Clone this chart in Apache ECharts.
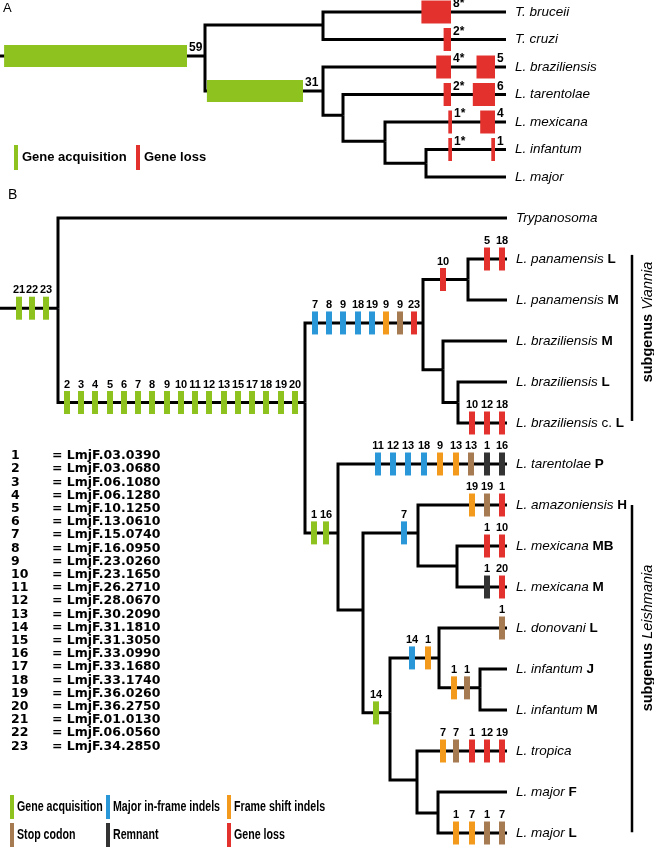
<!DOCTYPE html>
<html><head><meta charset="utf-8">
<script src="https://cdn.jsdelivr.net/npm/echarts@6/dist/echarts.min.js"></script>
<style>html,body{margin:0;padding:0;background:#fff}#c{width:654px;height:848px}</style>
</head><body><div id="c"></div>
<script>
const FONT = '"Liberation Sans", Arial, Helvetica, sans-serif';
const LISTFONT = '"DejaVu Sans", "Liberation Sans", Arial, sans-serif';
const COLORS = {g:'#8DC21F', b:'#2A98D8', o:'#F39A1C', s:'#A67B52', k:'#333333', r:'#E3322D'};

// ================= Panel A data =================
const aTipX = 506;
const aLeafNames  = ['T. bruceii','T. cruzi','L. braziliensis','L. tarentolae','L. mexicana','L. infantum','L. major'];
const aLeafParent = ['AT','AT','AL','ALA','ALB','ALC','ALC'];
const aNodeNames  = ['A0','AT','AL','ALA','ALB','ALC'];
const aNodeParent = [null,'A0','A0','AL','ALA','ALB'];
const aNodeX      = [205,323,323,343,385,426];
const aNodeRow    = [1.6,0.47,2.87,3.75,4.7,5.5];
// gene gain / loss events (box right end, count, label)
const aEvBranch = ['A0','AL','T. bruceii','T. cruzi','L. braziliensis','L. braziliensis','L. tarentolae','L. tarentolae','L. mexicana','L. mexicana','L. infantum','L. infantum'];
const aEvEnd    = [187,303,451,451,451,495,451,495,452,495,452,495];
const aEvCount  = [59,31,8,2,4,5,2,6,1,4,1,1];
const aEvLabel  = ['59','31','8*','2*','4*','5','2*','6','1*','4','1*','1'];
const aEvType   = ['g','g','r','r','r','r','r','r','r','r','r','r'];

// ================= Panel B data =================
const bTipX = 507;
const bLeafKeys    = ['Tryp','panL','panM','brazM','brazL','brazCL','tarP','amaH','mexMB','mexM','donL','infJ','infM','tro','majF','majL'];
const bLeafSpecies = ['Trypanosoma','L. panamensis','L. panamensis','L. braziliensis','L. braziliensis','L. braziliensis','L. tarentolae','L. amazoniensis','L. mexicana','L. mexicana','L. donovani','L. infantum','L. infantum','L. tropica','L. major','L. major'];
const bLeafNote    = ['','','','','','c.','','','','','','','','','',''];
const bLeafStrain  = ['','L','M','M','L','L','P','H','MB','M','L','J','M','','F','L'];
const bLeafParent  = ['R','Pan','Pan','Braz','BrazS','BrazS','N2','N4','Mex','Mex','N6','Inf','Inf','N7','Maj','Maj'];
const bNodeNames  = ['R','N1','V','Pan','Braz','BrazS','N2','N3','N4','Mex','N5','N6','Inf','N7','Maj'];
const bNodeParent = [null,'R','N1','V','V','Braz','N1','N2','N3','N4','N3','N5','N6','N5','N7'];
const bNodeX      = [58,305,423,468,443,458,338,363,418,457,390,439,480,417,438];
const bNodeRow    = [2.2,4.5,2.56,1.5,3.7,4.5,7.68,9.56,7.68,8.49,12.07,10.73,11.46,13.71,14.51];

// markers per branch: x positions, types, gene numbers
const mkBranch = ['R','N1','V','Pan','panL','brazCL','N2','tarP','N4','amaH','mexMB','mexM','donL','N5','N6','Inf','tro','majL'];
const mkX = [
  [19,32,46],
  [67,81,95,110,124,138,152,167,181,195,209,224,238,252,266,281,295],
  [315,329,343,358,372,386,400,414],
  [443],
  [487,502],
  [472,487,502],
  [314,326],
  [378,393,408,424,440,456,471,487,502],
  [404],
  [472,487,502],
  [487,502],
  [487,502],
  [502],
  [376],
  [412,428],
  [454,467],
  [443,456,472,487,502],
  [456,472,487,502]
];
const mkType = ['ggg','ggggggggggggggggg','bbbbbosr','r','rr','rrr','gg','bbbboosk'+'k','b','osr','rr','kr','s','g','bo','os','osrrr','ooss'];
const mkLabel = [
  ['21','22','23'],
  ['2','3','4','5','6','7','8','9','10','11','12','13','15','17','18','19','20'],
  ['7','8','9','18','19','9','9','23'],
  ['10'],
  ['5','18'],
  ['10','12','18'],
  ['1','16'],
  ['11','12','13','18','9','13','13','1','16'],
  ['7'],
  ['19','19','1'],
  ['1','10'],
  ['1','20'],
  ['1'],
  ['14'],
  ['14','1'],
  ['1','1'],
  ['7','7','1','12','19'],
  ['1','7','1','7']
];

// subgenus brackets (row ranges)
const bracketRows = [[0.9,4.95],[7,14.98]];
const bracketX = 632;

// gene list
const geneNums = ['1','2','3','4','5','6','7','8','9','10','11','12','13','14','15','16','17','18','19','20','21','22','23'];
const geneIds = ['LmjF.03.0390','LmjF.03.0680','LmjF.06.1080','LmjF.06.1280','LmjF.10.1250','LmjF.13.0610','LmjF.15.0740','LmjF.16.0950','LmjF.23.0260','LmjF.23.1650','LmjF.26.2710','LmjF.28.0670','LmjF.30.2090','LmjF.31.1810','LmjF.31.3050','LmjF.33.0990','LmjF.33.1680','LmjF.33.1740','LmjF.36.0260','LmjF.36.2750','LmjF.01.0130','LmjF.06.0560','LmjF.34.2850'];

// legends
const legAText = ['Gene acquisition','Gene loss'];
const legAType = ['g','r'];
const legBText = ['Gene acquisition','Major in-frame indels','Frame shift indels','Stop codon','Remnant','Gene loss'];
const legBType = ['g','b','o','s','k','r'];

// ================= build =================
function buildTree(nodeNames, nodeParent, nodeX, nodeRow, leafKeys, leafParent, tipX) {
  const pos = {};
  nodeNames.forEach((n,i)=> pos[n] = [nodeX[i], nodeRow[i]]);
  leafKeys.forEach((n,i)=> pos[n] = [tipX, i]);
  const segs = [];
  nodeNames.forEach((n,i)=>{
    const p = nodeParent[i];
    if (p === null) segs.push({coords:[[0, nodeRow[i]],[nodeX[i], nodeRow[i]]]});
    else segs.push({coords:[[pos[p][0], pos[p][1]],[pos[p][0], nodeRow[i]],[nodeX[i], nodeRow[i]]]});
  });
  leafKeys.forEach((n,i)=>{
    const p = pos[leafParent[i]];
    segs.push({coords:[[p[0],p[1]],[p[0],i],[tipX,i]]});
  });
  return {pos, segs};
}
const TA = buildTree(aNodeNames,aNodeParent,aNodeX,aNodeRow,aLeafNames,aLeafParent,aTipX);
const TB = buildTree(bNodeNames,bNodeParent,bNodeX,bNodeRow,bLeafKeys,bLeafParent,bTipX);

const mkData = [], mkT = [], mkL = [];
mkBranch.forEach((br,j)=>{
  mkX[j].forEach((x,k)=>{
    mkData.push([x, TB.pos[br][1]]);
    mkT.push(mkType[j][k]);
    mkL.push(mkLabel[j][k]);
  });
});

const lineStyle = {color:'#000', width:3, opacity:1, join:'miter', cap:'butt'};

const richLeaf = {
  i:{fontStyle:'italic', fontSize:13.5, fontFamily:FONT, fill:'#000', color:'#000'},
  n:{fontSize:13.5, fontFamily:FONT, fill:'#000', color:'#000'},
  b:{fontWeight:'bold', fontSize:13.5, fontFamily:FONT, fill:'#000', color:'#000'}
};

const graphics = [];
function txt(x, y, text, font, opts) {
  graphics.push(Object.assign({type:'text', x:x, y:y, silent:true,
    style:{text:text, font:font, fill:'#000', align:'left', verticalAlign:'middle', textAlign:'left', textVerticalAlign:'middle'}}, opts||{}));
}
function bar(x, y, w, h, c) {
  graphics.push({type:'rect', silent:true, shape:{x:x, y:y, width:w, height:h}, style:{fill:c}});
}
txt(3, 8, 'A', '13px ' + FONT);
txt(8, 195, 'B', '14px ' + FONT);
// legend A
legAText.forEach((t,i)=>{
  const x0 = [14,136][i];
  bar(x0, 145, 4, 25, COLORS[legAType[i]]);
  txt(x0+8, 157, t, 'bold 13px ' + FONT);
});
// legend B (condensed text)
legBText.forEach((t,i)=>{
  const col = i % 3, row = Math.floor(i/3);
  const x0 = [10,106,227][col];
  const yc = [807,835][row];
  bar(x0, yc-12, 4, 24, COLORS[legBType[i]]);
  txt(x0+7, yc, t, 'bold 14px ' + FONT, {scaleX:0.76});
});
// gene list
geneNums.forEach((n,i)=>{
  const y = 456 + i*13.2;
  txt(11, y, n, 'bold 12.5px ' + LISTFONT);
  txt(52, y, '= ' + geneIds[i], 'bold 12.5px ' + LISTFONT);
});
// subgenus labels
const richSub = {
  b:{fontWeight:'bold', fontSize:14.5, fontFamily:FONT, fill:'#000', color:'#000'},
  i:{fontStyle:'italic', fontSize:14.5, fontFamily:FONT, fill:'#000', color:'#000'}
};
[['Viannia',322],['Leishmania',638]].forEach(([g,y])=>{
  graphics.push({type:'text', x:648, y:y, rotation:Math.PI/2, silent:true,
    style:{text:'{b|subgenus} {i|' + g + '}', rich:richSub, font:'14.5px ' + FONT, fill:'#000',
      align:'center', verticalAlign:'middle', textAlign:'center', textVerticalAlign:'middle'}});
});

const option = {
  animation:false,
  backgroundColor:'#fff',
  grid:[{left:0, top:12, width:654, height:165},{left:0, top:218, width:654, height:615}],
  xAxis:[{type:'value', gridIndex:0, min:0, max:654, show:false},{type:'value', gridIndex:1, min:0, max:654, show:false}],
  yAxis:[{type:'value', gridIndex:0, min:0, max:6, inverse:true, show:false},{type:'value', gridIndex:1, min:0, max:15, inverse:true, show:false}],
  series:[
    {type:'lines', coordinateSystem:'cartesian2d', xAxisIndex:0, yAxisIndex:0, polyline:true, clip:false, silent:true, z:1,
      lineStyle:lineStyle, data:TA.segs},
    {type:'lines', coordinateSystem:'cartesian2d', xAxisIndex:1, yAxisIndex:1, polyline:true, clip:false, silent:true, z:1,
      lineStyle:lineStyle, data:TB.segs},
    {type:'lines', coordinateSystem:'cartesian2d', xAxisIndex:1, yAxisIndex:1, polyline:true, clip:false, silent:true, z:1,
      lineStyle:{color:'#000', width:2.5, opacity:1}, data:bracketRows.map(r=>({coords:[[bracketX,r[0]],[bracketX,r[1]]]}))},
    // panel A events
    {type:'custom', coordinateSystem:'cartesian2d', xAxisIndex:0, yAxisIndex:0, clip:false, silent:true, z:3,
      data: aEvEnd.map((x,i)=>[x, TA.pos[aEvBranch[i]][1]]),
      renderItem:(params, api)=>{
        const i = params.dataIndex;
        const p = api.coord([api.value(0), api.value(1)]);
        const isG = aEvType[i] === 'g';
        const w = aEvCount[i] * (isG ? 3.1 : 3.7);
        const h = isG ? 22 : 23;
        return {type:'group', children:[
          {type:'rect', shape:{x:p[0]-w, y:p[1]-h/2, width:w, height:h}, style:{fill:COLORS[aEvType[i]]}},
          {type:'text', style:{text:aEvLabel[i], x:p[0]+2, y:p[1]-8, font:'bold 12px ' + FONT, fill:'#000',
            align:'left', verticalAlign:'middle', textAlign:'left', textVerticalAlign:'middle'}}
        ]};
      }},
    // panel A leaf labels
    {type:'custom', coordinateSystem:'cartesian2d', xAxisIndex:0, yAxisIndex:0, clip:false, silent:true, z:3,
      data: aLeafNames.map((n,i)=>[aTipX, i]),
      renderItem:(params, api)=>{
        const p = api.coord([api.value(0), api.value(1)]);
        return {type:'text', style:{text:aLeafNames[params.dataIndex], x:p[0]+9, y:p[1], font:'italic 13.5px ' + FONT, fill:'#000',
          align:'left', verticalAlign:'middle', textAlign:'left', textVerticalAlign:'middle'}};
      }},
    // panel B markers
    {type:'custom', coordinateSystem:'cartesian2d', xAxisIndex:1, yAxisIndex:1, clip:false, silent:true, z:3,
      data: mkData,
      renderItem:(params, api)=>{
        const i = params.dataIndex;
        const p = api.coord([api.value(0), api.value(1)]);
        return {type:'group', children:[
          {type:'rect', shape:{x:p[0]-3, y:p[1]-11.5, width:6, height:23}, style:{fill:COLORS[mkT[i]]}},
          {type:'text', style:{text:mkL[i], x:p[0], y:p[1]-18, font:'bold 11px ' + FONT, fill:'#000',
            align:'center', verticalAlign:'middle', textAlign:'center', textVerticalAlign:'middle'}}
        ]};
      }},
    // panel B leaf labels
    {type:'custom', coordinateSystem:'cartesian2d', xAxisIndex:1, yAxisIndex:1, clip:false, silent:true, z:3,
      data: bLeafKeys.map((n,i)=>[bTipX, i]),
      renderItem:(params, api)=>{
        const i = params.dataIndex;
        const p = api.coord([api.value(0), api.value(1)]);
        let t = '{i|' + bLeafSpecies[i] + '}';
        if (bLeafNote[i]) t += '{n| ' + bLeafNote[i] + '}';
        if (bLeafStrain[i]) t += '{b| ' + bLeafStrain[i] + '}';
        return {type:'text', style:{text:t, rich:richLeaf, x:p[0]+9, y:p[1], font:'13.5px ' + FONT, fill:'#000',
          align:'left', verticalAlign:'middle', textAlign:'left', textVerticalAlign:'middle'}};
      }}
  ],
  graphic:graphics
};
const chart = echarts.init(document.getElementById('c'));
chart.setOption(option);
</script>
</body></html>
